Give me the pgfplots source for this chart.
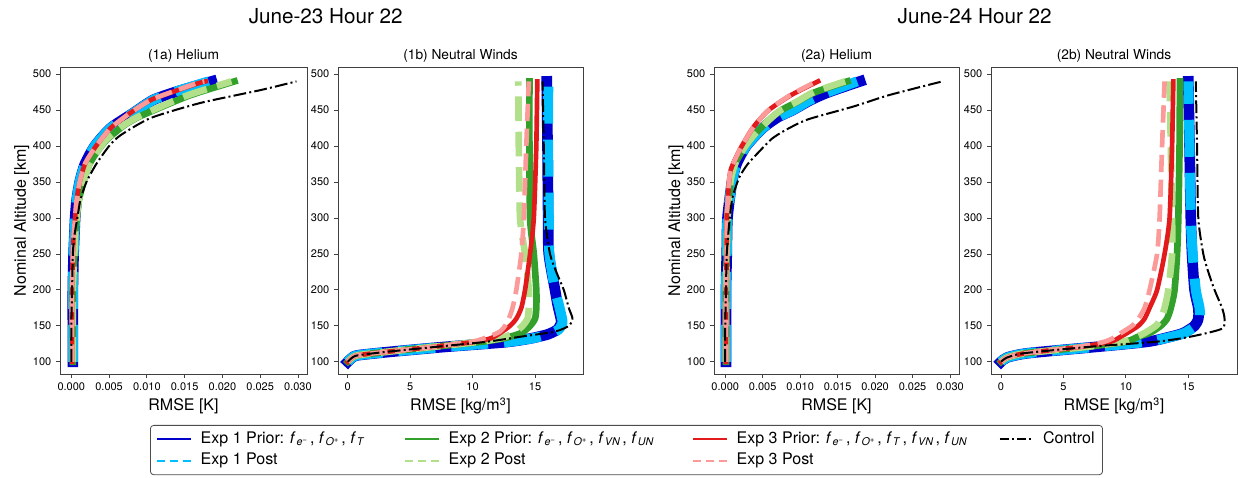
\documentclass[border=0pt]{standalone}
\usepackage{fontspec}
\setmainfont{TeX Gyre Heros}
\usepackage{pgfplots}
\pgfplotsset{compat=1.18}
\definecolor{cA}{RGB}{0,0,205}
\definecolor{cAp}{RGB}{0,191,255}
\definecolor{cB}{RGB}{51,160,44}
\definecolor{cBp}{RGB}{178,223,138}
\definecolor{cC}{RGB}{227,26,28}
\definecolor{cCp}{RGB}{251,154,153}
\newcommand{\fsub}[1]{\textit{f}\kern0.6pt\textsubscript{\textit{#1}}\kern1.2pt}
\tikzset{
  eApri/.style={cA, line width=8pt, line cap=rect, solid},
  eApost/.style={cAp, line width=7.5pt, line cap=butt, dash pattern=on 27.75pt off 12pt},
  eBpri/.style={cB, line width=5pt, line cap=rect, solid},
  eBpost/.style={cBp, line width=5pt, line cap=butt, dash pattern=on 18.5pt off 8pt},
  eCpri/.style={cC, line width=3.5pt, line cap=rect, solid},
  eCpost/.style={cCp, line width=3.5pt, line cap=butt, dash pattern=on 13pt off 5.6pt},
  ctrl/.style={black, line width=1.5pt, line cap=butt, dash pattern=on 9.6pt off 2.4pt on 1.5pt off 2.4pt},
}
\pgfplotsset{
  myax/.style={
    scale only axis, anchor=south west,
    height=230.25pt, ymin=83, ymax=510,
    ytick={100,150,200,250,300,350,400,450,500},
    tick align=outside, major tick length=3pt,
    xtick pos=bottom, ytick pos=left,
    axis line style={black!75, line width=0.6pt},
    tick style={black!75, line width=0.6pt},
    tick label style={font=\fontsize{8.25}{10}\selectfont},
    /pgf/number format/assume math mode=true,
    every axis title shift=0pt,
    title style={font=\fontsize{10.3}{12}\selectfont, at={(0.5,1)}, anchor=base, yshift=5.25pt},
    label style={font=\fontsize{12}{14}\selectfont},
    xlabel style={at={(axis description cs:0.5,-0.1205)}, anchor=base},
    ylabel style={at={(axis description cs:-0.138,0.5)}, anchor=base},
    every axis plot/.append style={line join=round, smooth, tension=0.4},
  },
  heax/.style={myax, xmin=-0.0015, xmax=0.0312, scaled x ticks=false,
    xtick={0,0.005,0.01,0.015,0.02,0.025,0.03},
    xticklabels={0.000,0.005,0.010,0.015,0.020,0.025,0.030},
    xlabel={RMSE [K]}},
  wdax/.style={myax, xmin=-0.78, xmax=18.84, xtick={0,5,10,15},
    xlabel={RMSE [kg/m\textsuperscript{3}]}},
}
\begin{document}
\begin{tikzpicture}
\useasboundingbox (0,0) rectangle (928.5pt,358.5pt);
\node[font=\fontsize{15.5}{18}\selectfont, anchor=base] at (244.3pt,341pt) {June-23 Hour 22};
\node[font=\fontsize{15.5}{18}\selectfont, anchor=base] at (731pt,341pt) {June-24 Hour 22};

% ---------- (1a) Helium
\begin{axis}[heax, at={(45pt,78pt)}, width=185.25pt, title={(1a) Helium},
  ylabel={Nominal Altitude [km]},
  legend columns=4, legend cell align=left,
  legend image code/.code={\draw[#1] (0pt,0pt) -- (25pt,0pt);},
  legend style={at={(0.3644,-0.1661)}, anchor=north west,
    draw=black!70, rounded corners=2.5pt, line width=0.6pt,
    font=\fontsize{12}{14}\selectfont,
    /tikz/every odd column/.append style={column sep=5.25pt},
    /tikz/every even column/.append style={column sep=0pt},
    nodes={inner sep=1.5pt, text height=9pt, text depth=3pt},
    row sep=1pt, inner xsep=4.5pt, inner ysep=3pt}]
\addplot[eApri, forget plot] coordinates {(0.0002,100)(0.0002,150)(0.0002,200)(0.0003,250)(0.0004,275)(0.0005,300)(0.0007,325)(0.0011,350)(0.0018,375)(0.0031,400)(0.0052,425)(0.0082,446)(0.0108,464)(0.0140,476)(0.0186,490)};
\addplot[eApost, forget plot] coordinates {(0.0002,100)(0.0002,150)(0.0002,200)(0.0003,250)(0.0004,275)(0.0005,300)(0.0007,325)(0.0011,350)(0.0018,375)(0.0031,400)(0.0052,425)(0.0082,446)(0.0108,464)(0.0139,476)(0.0182,490)};
\addplot[eBpri, forget plot] coordinates {(0.0002,100)(0.0002,150)(0.0002,200)(0.0004,250)(0.0005,275)(0.0007,300)(0.0010,325)(0.0016,350)(0.0024,375)(0.0036,395)(0.0048,410)(0.0070,429)(0.0088,440)(0.0114,452)(0.0158,471)(0.0216,490)};
\addplot[eBpost, forget plot] coordinates {(0.0002,100)(0.0002,150)(0.0002,200)(0.0004,250)(0.0005,275)(0.0007,300)(0.0010,325)(0.0016,350)(0.0024,375)(0.0036,395)(0.0047,410)(0.0069,429)(0.0087,440)(0.0112,452)(0.0155,471)(0.0212,490)};
\addplot[eCpri, forget plot] coordinates {(0.0001,100)(0.0001,150)(0.0001,200)(0.0002,250)(0.0003,275)(0.0005,300)(0.0007,325)(0.0011,350)(0.0018,375)(0.0032,399)(0.0052,425)(0.0078,446)(0.0105,464)(0.0136,476)(0.0167,487)(0.0178,490)};
\addplot[eCpost, forget plot] coordinates {(0.0001,100)(0.0001,150)(0.0001,200)(0.0002,250)(0.0003,275)(0.0005,300)(0.0007,325)(0.0011,350)(0.0018,375)(0.0032,399)(0.0052,425)(0.0078,446)(0.0105,464)(0.0135,476)(0.0165,487)(0.0176,490)};
\addplot[ctrl, forget plot] coordinates {(0.0000,100)(0.0000,150)(0.0001,200)(0.0002,250)(0.0004,275)(0.0008,300)(0.0012,325)(0.0020,350)(0.0033,375)(0.0050,400)(0.0065,415)(0.0105,439)(0.0171,460)(0.0251,478)(0.0298,490)};
\addlegendimage{cA, line width=1.5pt, solid}
\addlegendentry{\makebox[151.25pt][l]{Exp 1 Prior: \fsub{e\textsuperscript{−}}, \fsub{O\textsuperscript{+}}, \fsub{T}}}
\addlegendimage{cB, line width=1.5pt, solid}
\addlegendentry{\makebox[181.25pt][l]{Exp 2 Prior: \fsub{e\textsuperscript{−}}, \fsub{O\textsuperscript{+}}, \fsub{VN}, \fsub{UN}}}
\addlegendimage{cC, line width=1.5pt, solid}
\addlegendentry{\makebox[195pt][l]{Exp 3 Prior: \fsub{e\textsuperscript{−}}, \fsub{O\textsuperscript{+}}, \fsub{T}, \fsub{VN}, \fsub{UN}}}
\addlegendimage{black, line width=1.5pt, dash pattern=on 7pt off 2.2pt on 1.5pt off 2.2pt}
\addlegendentry{Control}
\addlegendimage{cAp, line width=1.5pt, dash pattern=on 6pt off 3.5pt}
\addlegendentry{Exp 1 Post}
\addlegendimage{cBp, line width=1.5pt, dash pattern=on 6pt off 3.5pt}
\addlegendentry{Exp 2 Post}
\addlegendimage{cCp, line width=1.5pt, dash pattern=on 6pt off 3.5pt}
\addlegendentry{Exp 3 Post}
\end{axis}

% ---------- (1b) Neutral Winds
\begin{axis}[wdax, at={(253.5pt,78pt)}, width=183.75pt, title={(1b) Neutral Winds}]
\addplot[eApri] coordinates {(0,100)(0.3,105)(0.8,109)(3.5,114)(8,121)(12.5,127)(14.5,132)(16,138)(16.8,145)(17.1,155)(17.0,165)(16.8,180)(16.6,200)(16.1,250)(16.05,300)(16.0,400)(15.94,490)};
\addplot[eApost] coordinates {(0,100)(0.3,105)(0.8,109)(3.5,114)(8,121)(12.5,127)(14.6,132)(16.1,138)(16.9,145)(17.2,155)(17.1,165)(16.9,180)(16.6,200)(16.15,250)(16.1,300)(16.05,400)(16.06,490)};
\addplot[eBpri] coordinates {(0,100)(0.3,105)(0.8,109)(3.2,114)(7,121)(10.8,128)(12.6,133)(13.9,140)(14.6,150)(15.0,160)(15.1,175)(15.1,200)(14.9,250)(14.6,300)(14.55,400)(14.55,490)};
\addplot[eBpost] coordinates {(0,100)(0.3,105)(0.8,109)(3.2,114)(7,121)(10.6,128)(12.3,133)(13.3,140)(14.0,150)(14.4,160)(14.5,175)(14.5,200)(14.2,250)(13.8,300)(13.7,400)(13.66,490)};
\addplot[eCpri] coordinates {(0,100)(0.3,105)(0.8,109)(3.2,114)(7,121)(10.3,128)(11.5,133)(12.2,140)(13.0,150)(13.5,160)(13.9,175)(14.2,200)(14.6,250)(14.9,300)(15.1,400)(15.18,490)};
\addplot[eCpost] coordinates {(0,100)(0.3,105)(0.8,109)(3.2,114)(7,121)(10,128)(11.3,135)(12.2,142)(12.6,150)(12.9,160)(13.2,175)(13.5,200)(13.9,250)(14.1,300)(14.3,400)(14.5,490)};
\addplot[ctrl] coordinates {(0,100)(0.3,105)(0.8,109)(3.2,114)(7.2,121)(11.2,128)(13.9,135)(16.6,142)(17.7,150)(18.0,160)(17.7,175)(17.3,200)(16.7,225)(16.2,250)(15.8,300)(15.7,400)(15.6,490)};
\end{axis}

% ---------- (2a) Helium
\begin{axis}[heax, at={(535.5pt,78pt)}, width=183.75pt, title={(2a) Helium},
  ylabel={Nominal Altitude [km]}]
\addplot[eApri] coordinates {(0.0001,100)(0.0001,150)(0.0001,200)(0.0002,250)(0.0003,300)(0.0009,350)(0.0015,375)(0.0028,400)(0.0050,425)(0.0070,440)(0.0090,450)(0.0114,464)(0.0138,475)(0.0180,490)};
\addplot[eApost] coordinates {(0.0001,100)(0.0001,150)(0.0001,200)(0.0002,250)(0.0003,300)(0.0009,350)(0.0015,375)(0.0028,400)(0.0050,425)(0.0070,440)(0.0090,450)(0.0113,464)(0.0137,475)(0.0176,490)};
\addplot[eBpri] coordinates {(0.0001,100)(0.0001,150)(0.0001,200)(0.0002,250)(0.0003,300)(0.0007,350)(0.0013,375)(0.0025,397)(0.0038,415)(0.0058,436)(0.0075,450)(0.0097,462)(0.0120,475)(0.0163,490)};
\addplot[eBpost] coordinates {(0.0001,100)(0.0001,150)(0.0001,200)(0.0002,250)(0.0003,300)(0.0007,350)(0.0013,375)(0.0025,397)(0.0038,415)(0.0058,436)(0.0074,450)(0.0096,462)(0.0118,475)(0.0160,490)};
\addplot[eCpri] coordinates {(0.0001,100)(0.0001,150)(0.0001,200)(0.0002,250)(0.0002,300)(0.0005,350)(0.0008,369)(0.0021,398)(0.0038,427)(0.0058,450)(0.0088,471)(0.0124,490)};
\addplot[eCpost] coordinates {(0.0001,100)(0.0001,150)(0.0001,200)(0.0002,250)(0.0002,300)(0.0005,350)(0.0008,369)(0.0021,398)(0.0038,427)(0.0058,450)(0.0087,471)(0.0122,490)};
\addplot[ctrl] coordinates {(0.0000,100)(0.0000,150)(0.0001,200)(0.0002,250)(0.0006,300)(0.0010,330)(0.0019,357)(0.0030,375)(0.0045,392)(0.0062,410)(0.0080,422)(0.0110,437)(0.0171,455)(0.0219,471)(0.0290,490)};
\end{axis}

% ---------- (2b) Neutral Winds
\begin{axis}[wdax, at={(743.25pt,78pt)}, width=184.5pt, xmin=-0.8, xmax=18.9, title={(2b) Neutral Winds}]
\addplot[eApri] coordinates {(0,100)(0.5,106)(2.2,112)(7.8,121)(11.8,128)(13.6,135)(14.6,140)(15.5,150)(15.8,160)(15.8,175)(15.5,200)(15.3,250)(15.2,300)(15.1,400)(15.0,490)};
\addplot[eApost] coordinates {(0,100)(0.5,106)(2.2,112)(7.8,121)(11.8,128)(13.7,135)(14.7,140)(15.6,150)(15.9,160)(15.9,175)(15.6,200)(15.35,250)(15.2,300)(15.1,400)(15.0,490)};
\addplot[eBpri] coordinates {(0,100)(0.5,106)(2,112)(7,121)(10,128)(11.0,135)(11.9,140)(12.8,150)(13.3,160)(13.6,175)(13.9,200)(14.1,250)(14.2,300)(14.3,400)(14.33,490)};
\addplot[eBpost] coordinates {(0,100)(0.5,106)(2,112)(7,121)(9.8,128)(10.9,135)(11.5,140)(12.4,150)(12.8,160)(13.1,175)(13.4,200)(13.7,250)(13.7,300)(13.6,400)(13.5,490)};
\addplot[eCpri] coordinates {(0,100)(0.5,106)(2,112)(6.5,121)(8.8,128)(9.6,135)(10.1,140)(11,150)(11.5,160)(11.9,175)(12.5,200)(13.1,250)(13.5,300)(13.7,400)(13.8,490)};
\addplot[eCpost] coordinates {(0,100)(0.5,106)(2,112)(6.3,121)(8.3,128)(9.2,135)(9.6,140)(10.5,150)(11.0,160)(11.5,175)(11.9,200)(12.5,250)(12.7,300)(12.9,400)(13.1,490)};
\addplot[ctrl] coordinates {(0,100)(0.5,106)(1.9,112)(7.2,121)(12.5,128)(15.2,135)(17.7,146)(17.9,160)(17.7,175)(17.1,200)(16.6,225)(16.2,250)(15.8,300)(15.7,400)(15.6,490)};
\end{axis}
\end{tikzpicture}
\end{document}
